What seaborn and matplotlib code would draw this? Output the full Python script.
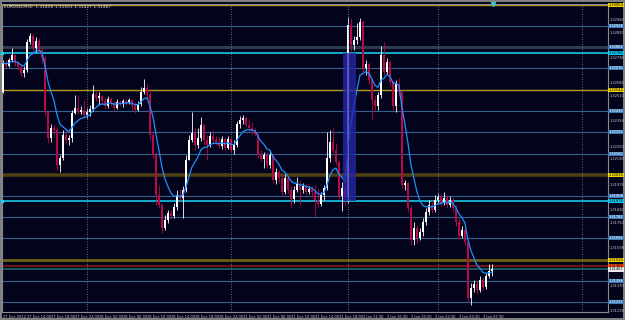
import numpy as np
import pandas as pd
import matplotlib
matplotlib.use("Agg")
import matplotlib.pyplot as plt
import seaborn as sns

symbol = "EURUSD,M30"
first_open = 1.32532

closes = [
    1.32706, 1.32688, 1.32724, 1.32754, 1.32706, 1.32682, 1.32646, 1.32664, 1.32832, 1.32868,
    1.32796, 1.32838, 1.32784, 1.32736, 1.32412, 1.32256, 1.32316, 1.32304, 1.32094, 1.32136,
    1.32274, 1.32244, 1.32256, 1.32406, 1.32436, 1.32412, 1.32424, 1.32394, 1.32412, 1.32430,
    1.32520, 1.32496, 1.32508, 1.32478, 1.32448, 1.32490, 1.32466, 1.32436, 1.32472, 1.32460,
    1.32478, 1.32466, 1.32484, 1.32448, 1.32424, 1.32460, 1.32532, 1.32556, 1.32520, 1.32274,
    1.32154, 1.31914, 1.31854, 1.31716, 1.31764, 1.31806, 1.31788, 1.31842, 1.31914, 1.31896,
    1.31944, 1.32124, 1.32244, 1.32286, 1.32214, 1.32256, 1.32334, 1.32244, 1.32214, 1.32268,
    1.32244, 1.32232, 1.32208, 1.32250, 1.32196, 1.32250, 1.32184, 1.32214, 1.32340, 1.32364,
    1.32376, 1.32334, 1.32316, 1.32298, 1.32280, 1.32154, 1.32130, 1.32154, 1.32094, 1.32154,
    1.32004, 1.32052, 1.32016, 1.31932, 1.32016, 1.31944, 1.31890, 1.31944, 1.31980, 1.31944,
    1.31968, 1.31932, 1.31950, 1.31932, 1.31884, 1.31860, 1.31914, 1.31956, 1.32136, 1.32232,
    1.32184, 1.32112, 1.31908, 1.31956, 1.31902, 1.32934, 1.32814, 1.32844, 1.32862, 1.32952,
    1.32676, 1.32700, 1.32604, 1.32484, 1.32448, 1.32514, 1.32754, 1.32652, 1.32712, 1.32592,
    1.32448, 1.32580, 1.32532, 1.31974, 1.31986, 1.31836, 1.31644, 1.31716, 1.31656, 1.31692,
    1.31752, 1.31812, 1.31854, 1.31824, 1.31884, 1.31902, 1.31866, 1.31896, 1.31854, 1.31884,
    1.31836, 1.31752, 1.31668, 1.31704, 1.31632, 1.31296, 1.31356, 1.31380, 1.31344, 1.31404,
    1.31362, 1.31428, 1.31456, 1.31467,
]
highs = [
    1.32724, 1.32724, 1.32736, 1.32796, 1.32760, 1.32718, 1.32700, 1.32688, 1.32850, 1.32886,
    1.32886, 1.32862, 1.32856, 1.32796, 1.32754, 1.32424, 1.32340, 1.32334, 1.32322, 1.32154,
    1.32304, 1.32316, 1.32274, 1.32424, 1.32514, 1.32508, 1.32448, 1.32484, 1.32436, 1.32454,
    1.32574, 1.32538, 1.32532, 1.32514, 1.32502, 1.32508, 1.32502, 1.32478, 1.32490, 1.32484,
    1.32490, 1.32490, 1.32496, 1.32490, 1.32472, 1.32478, 1.32562, 1.32610, 1.32580, 1.32544,
    1.32292, 1.32172, 1.31974, 1.31866, 1.31794, 1.31824, 1.31830, 1.31866, 1.31944, 1.31950,
    1.31968, 1.32154, 1.32274, 1.32412, 1.32316, 1.32316, 1.32382, 1.32340, 1.32274, 1.32292,
    1.32304, 1.32268, 1.32262, 1.32268, 1.32262, 1.32268, 1.32256, 1.32244, 1.32358, 1.32388,
    1.32394, 1.32388, 1.32370, 1.32352, 1.32316, 1.32292, 1.32184, 1.32172, 1.32172, 1.32184,
    1.32160, 1.32076, 1.32064, 1.32040, 1.32040, 1.32028, 1.31968, 1.31968, 1.32022, 1.32004,
    1.31986, 1.31980, 1.31968, 1.31968, 1.31974, 1.31956, 1.31932, 1.31974, 1.32292, 1.32304,
    1.32316, 1.32226, 1.32124, 1.31992, 1.31968, 1.32982, 1.32976, 1.32868, 1.32946, 1.32976,
    1.32964, 1.32724, 1.32712, 1.32616, 1.32508, 1.32532, 1.32808, 1.32832, 1.32736, 1.32724,
    1.32604, 1.32604, 1.32616, 1.32544, 1.32004, 1.31992, 1.31854, 1.31752, 1.31734, 1.31716,
    1.31776, 1.31836, 1.31884, 1.31884, 1.31914, 1.31926, 1.31920, 1.31932, 1.31914, 1.31908,
    1.31902, 1.31854, 1.31776, 1.31728, 1.31716, 1.31644, 1.31386, 1.31404, 1.31398, 1.31428,
    1.31422, 1.31446, 1.31500, 1.31501,
]
lows = [
    1.32526, 1.32676, 1.32682, 1.32712, 1.32688, 1.32664, 1.32628, 1.32622, 1.32652, 1.32820,
    1.32766, 1.32772, 1.32766, 1.32706, 1.32388, 1.32226, 1.32232, 1.32280, 1.32064, 1.32052,
    1.32124, 1.32226, 1.32214, 1.32232, 1.32400, 1.32400, 1.32400, 1.32376, 1.32376, 1.32388,
    1.32418, 1.32478, 1.32454, 1.32460, 1.32430, 1.32436, 1.32448, 1.32418, 1.32430, 1.32448,
    1.32442, 1.32454, 1.32460, 1.32424, 1.32406, 1.32418, 1.32448, 1.32520, 1.32502, 1.32244,
    1.32136, 1.31854, 1.31836, 1.31686, 1.31704, 1.31746, 1.31770, 1.31776, 1.31824, 1.31884,
    1.31776, 1.31932, 1.32124, 1.32232, 1.32184, 1.32196, 1.32238, 1.32214, 1.32124, 1.32202,
    1.32226, 1.32214, 1.32196, 1.32190, 1.32184, 1.32190, 1.32172, 1.32160, 1.32202, 1.32316,
    1.32340, 1.32322, 1.32298, 1.32280, 1.32268, 1.32136, 1.32118, 1.32076, 1.32076, 1.32076,
    1.31986, 1.31980, 1.31986, 1.31908, 1.31920, 1.31926, 1.31842, 1.31866, 1.31932, 1.31854,
    1.31926, 1.31914, 1.31920, 1.31902, 1.31782, 1.31842, 1.31848, 1.31884, 1.31944, 1.32112,
    1.32172, 1.32094, 1.31890, 1.31818, 1.31854, 1.31866, 1.32772, 1.32784, 1.32820, 1.32844,
    1.32652, 1.32634, 1.32580, 1.32364, 1.32424, 1.32424, 1.32496, 1.32634, 1.32640, 1.32574,
    1.32424, 1.32412, 1.32508, 1.31956, 1.31944, 1.31812, 1.31614, 1.31614, 1.31626, 1.31644,
    1.31668, 1.31734, 1.31794, 1.31806, 1.31812, 1.31866, 1.31848, 1.31854, 1.31836, 1.31842,
    1.31812, 1.31728, 1.31644, 1.31656, 1.31614, 1.31278, 1.31254, 1.31332, 1.31320, 1.31332,
    1.31344, 1.31350, 1.31416, 1.31427,
]

# trading sessions: start time and number of 30 minute bars
session_starts = ["2012-12-27 10:00", "2012-12-28 00:00", "2012-12-31 00:00", "2013-01-02 09:00", "2013-01-03 00:00"]
session_bars = [28, 48, 39, 30, 19]

# horizontal levels drawn on the chart
level_prices = [1.33054, 1.32928, 1.32802, 1.32766, 1.32676, 1.32544, 1.32418, 1.32292, 1.32160,
                1.32034, 1.31908, 1.31878, 1.31782, 1.31656, 1.31524, 1.31488, 1.31398, 1.31272]
level_kinds = ["gold", "blue", "slate", "cyan", "blue", "gold", "blue", "blue", "blue",
               "brown", "blue", "cyan", "blue", "blue", "olive", "red", "blue", "blue"]

box_bars = (113.5, 117.8)
box_prices = (1.31878, 1.32766)
ma_span = 8

# line colour, width, label colour, label text colour
styles = {
    "gold": ("#b09a20", 1.0, "#f2d400", "black"),
    "blue": ("#34628c", 0.8, "#3d7ab8", "white"),
    "slate": ("#2c3b52", 2.2, "#3d7ab8", "white"),
    "cyan": ("#18d8f8", 1.1, "#10c8f0", "black"),
    "brown": ("#4d4012", 2.6, "#f2d400", "black"),
    "olive": ("#6f6012", 2.0, "#f2d400", "black"),
    "red": ("#6a1414", 1.6, "#ff4a10", "black"),
    "bid": ("#1a5a5a", 1.4, "#e8e8e8", "black"),
}

bg = "#03031c"
bull = "#ffffff"
bear = "#b80a48"
txt = "#c8c8c8"
fs = 2.6

times = []
for start, n in zip(session_starts, session_bars):
    times += list(pd.date_range(start, periods=n, freq="30min"))

df = pd.DataFrame({"time": times, "close": closes, "high": highs, "low": lows})
df["open"] = df["close"].shift(1).fillna(first_open)
df["bar"] = np.arange(len(df))
df["ma"] = df["close"].ewm(span=ma_span, adjust=False).mean()
up = df["close"] >= df["open"]

sns.set_theme(style="dark")
plt.rcParams["font.family"] = ["DejaVu Sans"]

fig = plt.figure(figsize=(6.25, 3.2), dpi=100, facecolor=bg)
ax = fig.add_axes([2 / 625, 8 / 320, 606 / 625, 308 / 320])
ax.set_facecolor(bg)

# day separators
day_change = df.index[df["time"].dt.date != df["time"].shift(1).dt.date][1:]
seps = list(day_change) + [day_change[-1] + 48]
for b in seps:
    ax.axvline(b, color="#8a8a9a", lw=0.6, ls=(0, (1, 2)), zorder=5)

# horizontal levels
for p, k in zip(level_prices, level_kinds):
    c, lw, _, _ = styles[k]
    ax.axhline(p, color=c, lw=lw, zorder=1)
ax.axhline(df["close"].iloc[-1], color=styles["bid"][0], lw=styles["bid"][1], zorder=1)

# candles
colors = np.where(up, bull, bear)
ax.vlines(df["bar"], df["low"], df["high"], colors=colors, lw=0.6, zorder=3)
body = (df["close"] - df["open"]).where(lambda s: s.abs() > 0.00002, 0.00002)
ax.bar(df["bar"], body, bottom=df["open"], width=0.62, color=colors, lw=0, zorder=3)

# moving average
sns.lineplot(x=df["bar"], y=df["ma"], ax=ax, color="#1e90ff", lw=0.9, zorder=4)

# highlight box
ax.add_patch(plt.Rectangle((box_bars[0], box_prices[0]), box_bars[1] - box_bars[0],
                           box_prices[1] - box_prices[0], color="#2626a8", alpha=0.8, lw=0, zorder=4))

# anchor points of cyan lines
for p, k in zip(level_prices, level_kinds):
    if k == "cyan":
        ax.plot([-0.33], [p], "s", color=styles["cyan"][0], ms=2, clip_on=False, zorder=6)

ax.set_xlim(-0.33, 201.7)
ax.set_ylim(1.31212, 1.33060)

# price axis, grey labels hidden where a level label sits
all_levels = np.array(level_prices + [df["close"].iloc[-1]])
yt = np.arange(1.31218, 1.3306, 0.00076)
yt = [v for v in yt if np.min(np.abs(all_levels - v)) > 0.00022]
ax.yaxis.tick_right()
ax.set_yticks(yt)
ax.set_yticklabels([f"{v:.5f}" for v in yt])
ax.tick_params(axis="y", length=1, pad=0.4, labelsize=fs, colors=txt)

# time axis
tb = df["bar"][::8]
labels = []
for b in tb:
    t = df["time"].iloc[b]
    labels.append(f"{t.day} {t:%b %Y}" if b == 0 else f"{t.day} {t:%b %H:%M}")
ax.set_xticks(tb)
ax.set_xticklabels(labels, ha="left")
ax.tick_params(axis="x", length=1.5, pad=1, labelsize=fs, colors=txt)
ax.set_xlabel("")
ax.set_ylabel("")
ax.grid(False)

for s in ax.spines.values():
    s.set_color("#8a8a8a")
    s.set_linewidth(0.8)

# price labels of levels on the right axis
for p, k in zip(level_prices + [df["close"].iloc[-1]], level_kinds + ["bid"]):
    _, _, fc, tc = styles[k]
    ax.annotate(f"{p:.5f}", xy=(1.0, p), xycoords=("axes fraction", "data"), xytext=(0.5, 0),
                textcoords="offset points", ha="left", va="center", fontsize=fs, color=tc,
                bbox=dict(boxstyle="square,pad=0.12", fc=fc, ec="none"),
                annotation_clip=False, zorder=10)

last = df.iloc[-1]
ax.text(0.004, 0.997, f"{symbol}  {last['open']:.5f} {last['high']:.5f} {last['low']:.5f} {last['close']:.5f}",
        transform=ax.transAxes, ha="left", va="top", fontsize=3.2, color="#e0e0e0", zorder=10)

# chart shift marker
ax.plot([df["bar"].iloc[-1] + 0.3], [1.0], marker="v", color="#40c0c0", ms=3,
        transform=ax.get_xaxis_transform(), clip_on=False, zorder=10)

fig.patch.set_edgecolor("#808080")
fig.patch.set_linewidth(1.5)
fig.savefig("out.png", dpi=100, facecolor=bg, edgecolor="#808080")
